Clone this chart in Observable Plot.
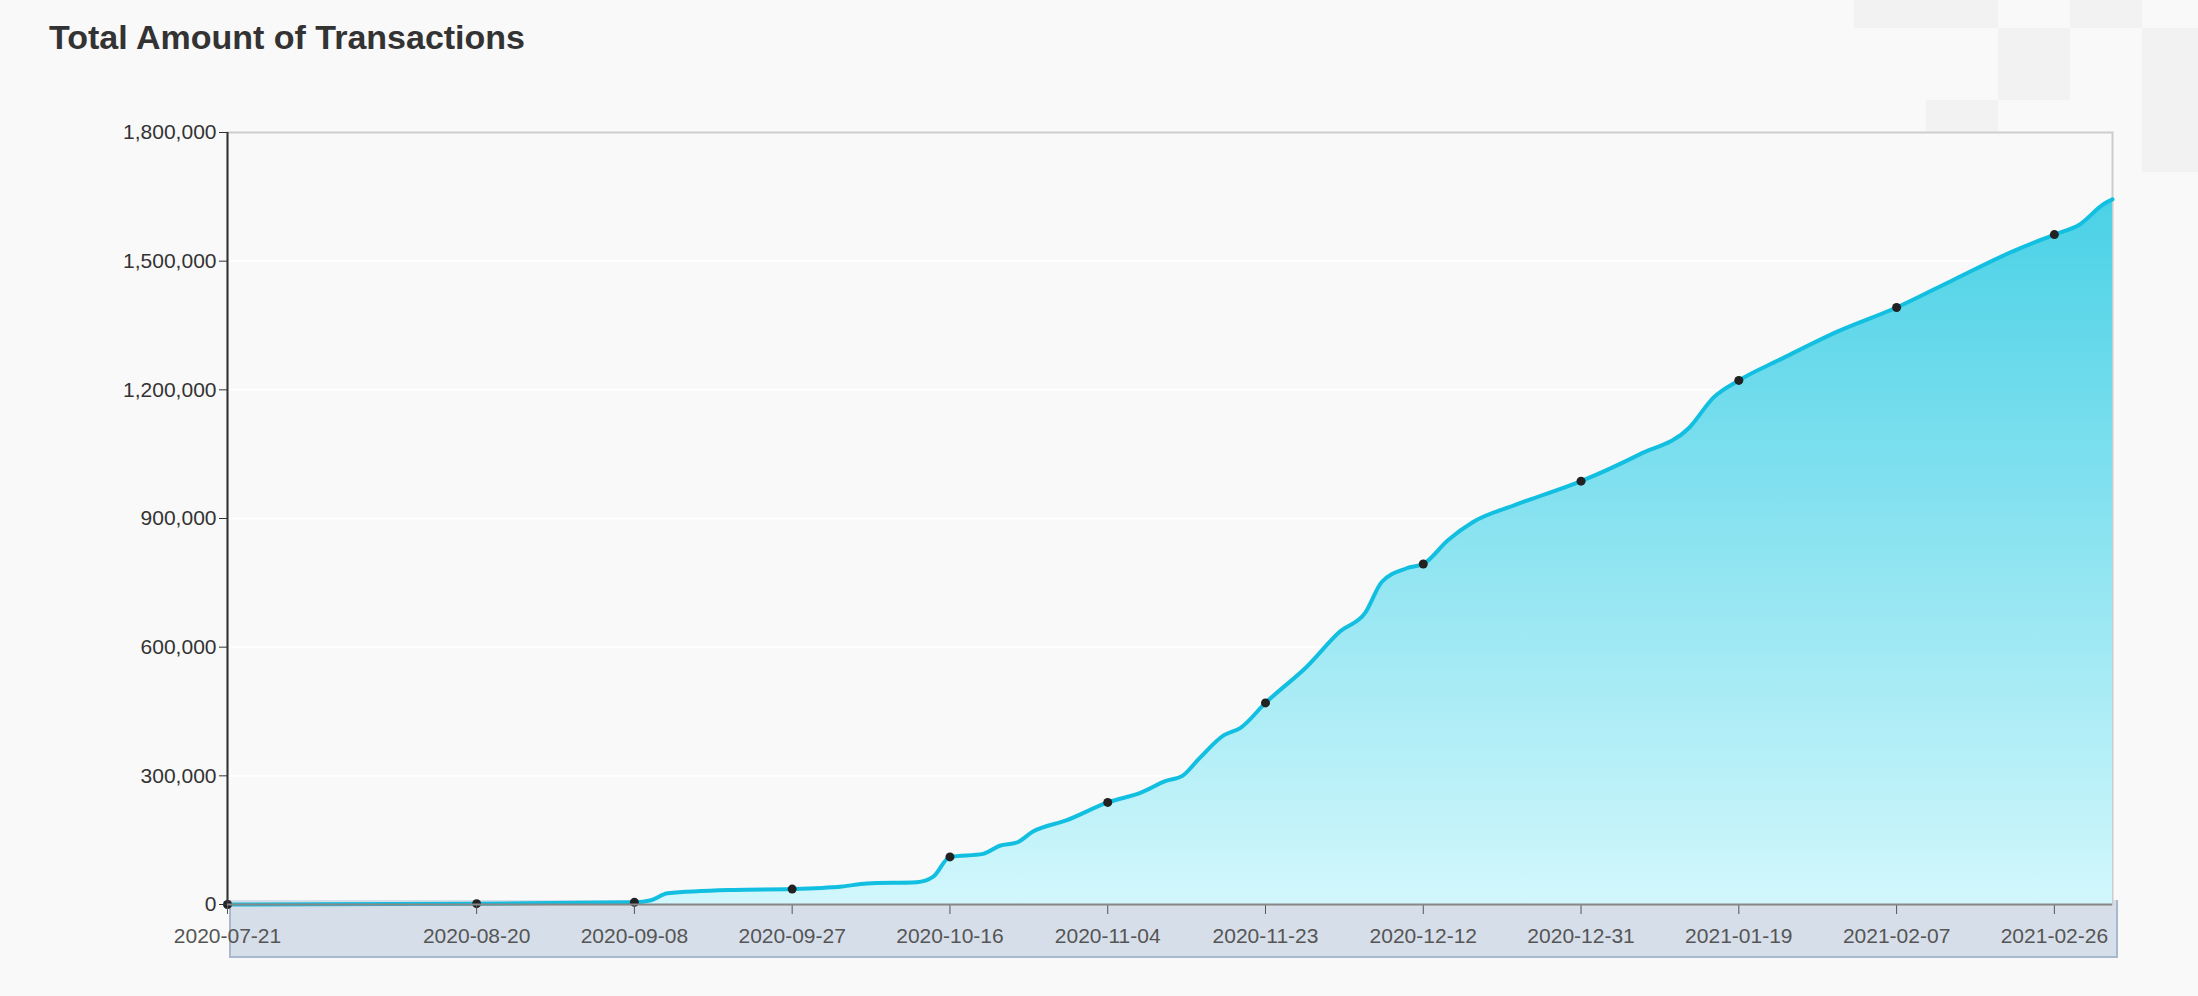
<!DOCTYPE html>
<html><head><meta charset="utf-8">
<script src="https://cdn.jsdelivr.net/npm/d3@7"></script>
<script src="https://cdn.jsdelivr.net/npm/@observablehq/plot@0.6"></script>
<style>
body{margin:0;background:#f9f9f9;font-family:"Liberation Sans",Arial,sans-serif;}
#wrap{position:relative;width:2198px;height:996px;overflow:hidden;}
.sq{position:absolute;background:#f2f2f2;}
#title{position:absolute;left:49px;top:18px;font-size:34px;font-weight:bold;color:#333;}
#slider{position:absolute;left:229px;top:900px;width:1885px;height:56px;background:#d6dee9;border:2px solid #a9b9cd;border-top:none;}
#chart{position:absolute;left:0;top:0;}
</style></head>
<body><div id="wrap">
<div class="sq" style="left:1854px;top:0;width:144px;height:28px"></div>
<div class="sq" style="left:2070px;top:0;width:72px;height:28px"></div>
<div class="sq" style="left:1998px;top:28px;width:72px;height:72px"></div>
<div class="sq" style="left:1926px;top:100px;width:72px;height:32px"></div>
<div class="sq" style="left:2142px;top:28px;width:56px;height:144px"></div>
<div id="title">Total Amount of Transactions</div>
<div id="slider"></div>
<div id="chart"></div>
</div>
<script>
const dates = ["2020-07-21","2020-08-20","2020-09-08","2020-09-10","2020-09-12","2020-09-20","2020-09-27","2020-10-03","2020-10-06","2020-10-12","2020-10-14","2020-10-16","2020-10-20","2020-10-22","2020-10-24","2020-10-26","2020-10-30","2020-11-04","2020-11-08","2020-11-11","2020-11-13","2020-11-15","2020-11-18","2020-11-20","2020-11-23","2020-11-28","2020-12-02","2020-12-05","2020-12-07","2020-12-10","2020-12-12","2020-12-15","2020-12-18","2020-12-23","2020-12-31","2021-01-07","2021-01-13","2021-01-16","2021-01-19","2021-01-24","2021-01-31","2021-02-07","2021-02-14","2021-02-21","2021-02-26","2021-03-01","2021-03-04","2021-03-05"];
const totals = [0,2000,5000,10000,26000,34000,36000,42000,49000,52000,65000,111000,118000,137000,144000,170000,196000,238000,261000,288000,300000,340000,395000,412000,470000,555000,637000,680000,752000,784000,794000,850000,892000,931000,987000,1049000,1111000,1183000,1222000,1271000,1337000,1392000,1458000,1523000,1562000,1585000,1634000,1644000];
const tickDates = ["2020-07-21","2020-08-20","2020-09-08","2020-09-27","2020-10-16","2020-11-04","2020-11-23","2020-12-12","2020-12-31","2021-01-19","2021-02-07","2021-02-26"];
const yTicks = [0,300000,600000,900000,1200000,1500000,1800000];

const parse = d3.utcParse("%Y-%m-%d");
const data = dates.map((d,i)=>({date:parse(d), value:totals[i]}));
const ticks = tickDates.map(parse);
const dots = data.filter(d => tickDates.includes(d3.utcFormat("%Y-%m-%d")(d.date)));

const chart = Plot.plot({
  width:2198, height:996,
  marginLeft:227, marginRight:86, marginTop:132, marginBottom:92,
  style:{background:"transparent", fontSize:"21px", fontFamily:"Liberation Sans, Arial, sans-serif", color:"#333"},
  x:{type:"utc", domain:[parse("2020-07-21"), parse("2021-03-05")], ticks:ticks, tickFormat:d3.utcFormat("%Y-%m-%d"), label:null, tickSize:10},
  y:{domain:[0,1800000], ticks:yTicks, tickFormat:d3.format(","), label:null, tickSize:8},
  marks:[
    () => {
      const svg = d3.create("svg:defs");
      const g = svg.append("linearGradient").attr("id","grad").attr("x1",0).attr("x2",0).attr("y1",0).attr("y2",1);
      g.append("stop").attr("offset","0%").attr("stop-color","#4ad1e6");
      g.append("stop").attr("offset","100%").attr("stop-color","#d2f7fc");
      return svg.node();
    },
    Plot.gridY(yTicks.slice(1), {stroke:"#fff", strokeOpacity:1, strokeWidth:2}),
    Plot.frame({stroke:"#ccc", strokeWidth:2}),
    Plot.areaY(data, {x:"date", y:"value", fill:"url(#grad)", curve:"monotone-x"}),
    Plot.lineY(data, {x:"date", y:"value", stroke:"#12bfe0", strokeWidth:4, curve:"monotone-x"}),
    Plot.dot(dots, {x:"date", y:"value", r:4.5, fill:"#222"}),
    Plot.axisY({ticks:yTicks, tickFormat:d3.format(","), tickSize:8, fontSize:21, color:"#333", label:null}),
    Plot.axisX({ticks:ticks, tickFormat:d3.utcFormat("%Y-%m-%d"), tickSize:10, tickPadding:14, fontSize:21, color:"#555", label:null}),
    Plot.ruleX([parse("2020-07-21")], {stroke:"#333", strokeWidth:2}),
    Plot.ruleY([0], {stroke:"#888", strokeWidth:2})
  ]
});
document.getElementById("chart").append(chart);
</script>
</body></html>
